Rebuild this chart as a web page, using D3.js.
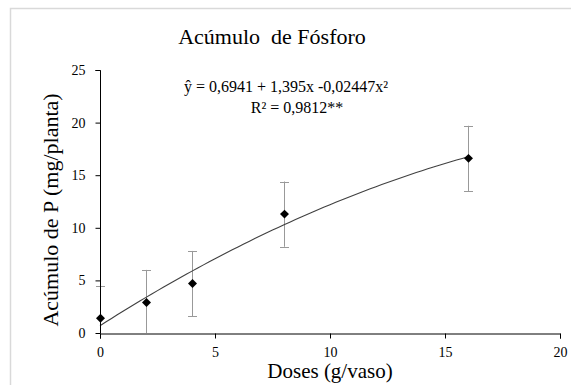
<!DOCTYPE html>
<html><head><meta charset="utf-8">
<script src="https://cdn.jsdelivr.net/npm/d3@7"></script>
<style>
html,body{margin:0;padding:0;background:#fff;}
svg{display:block;}
svg text{font-family:"Liberation Serif","Times New Roman",serif !important;}
</style></head>
<body><svg id="c" width="571" height="385"></svg>
<script>
const doses = [0, 2, 4, 8, 16];
const acumulo = [1.4, 2.9, 4.7, 11.3, 16.6];
const erro = [3.1, 3.1, 3.1, 3.1, 3.1];
const coef = [0.6941, 1.395, -0.02447];
const xTicks = [0, 5, 10, 15, 20];
const yTicks = [0, 5, 10, 15, 20, 25];
const title = "Acúmulo  de Fósforo";
const xLabel = "Doses (g/vaso)";
const yLabel = "Acúmulo de P (mg/planta)";
const eqText = "ŷ = 0,6941 + 1,395x -0,02447x²";
const r2Text = "R² = 0,9812**";

const serif = '"Liberation Serif","Times New Roman",serif';
const svg = d3.select("#c");
svg.append("rect").attr("x",10.5).attr("y",8.5).attr("width",620).attr("height",420)
  .attr("fill","#fff").attr("stroke","#d9d9d9").attr("stroke-width",1.5);

const x = d3.scaleLinear().domain([0,20]).range([100,560]);
const y = d3.scaleLinear().domain([0,25]).range([333,70]);

// error bars
const eb = svg.append("g").attr("stroke","#999").attr("stroke-width",1).attr("fill","none");
doses.forEach((d,i)=>{
  const lo = Math.max(0, acumulo[i]-erro[i]), hi = acumulo[i]+erro[i];
  const cx = Math.round(x(d))+0.5;
  eb.append("line").attr("x1",cx).attr("x2",cx).attr("y1",y(lo)).attr("y2",y(hi));
  eb.append("line").attr("x1",cx-4.5).attr("x2",cx+4.5).attr("y1",Math.round(y(hi))+0.5).attr("y2",Math.round(y(hi))+0.5);
  if (acumulo[i]-erro[i] >= 0)
    eb.append("line").attr("x1",cx-4.5).attr("x2",cx+4.5).attr("y1",Math.round(y(lo))+0.5).attr("y2",Math.round(y(lo))+0.5);
});

// fitted curve
const curveX = d3.range(0, 16.01, 0.25);
const line = d3.line().x(d=>x(d)).y(d=>y(coef[0]+coef[1]*d+coef[2]*d*d));
svg.append("path").datum(curveX).attr("d",line).attr("fill","none")
  .attr("stroke","#404040").attr("stroke-width",1.1);

// axes
const yAxis = d3.axisLeft(y).tickValues(yTicks).tickSize(5).tickPadding(10).tickFormat(d3.format("d"));
const gy = svg.append("g").attr("transform","translate(100.5,0)").call(yAxis);
const xAxis = d3.axisBottom(x).tickValues(xTicks).tickSize(5).tickPadding(9).tickFormat(d3.format("d"));
const gx = svg.append("g").attr("transform","translate(0,333.5)").call(xAxis);
[gx,gy].forEach(g=>{
  g.attr("font-family",serif);
  g.select(".domain").attr("stroke","#000");
  g.selectAll(".tick line").attr("stroke","#000");
  g.selectAll("text").style("font-family",serif).attr("font-size",14).attr("fill","#000");
});
gy.select(".domain").attr("d","M-5,70.5H0V333.5");

// points
svg.append("g").selectAll("path").data(doses).join("path")
  .attr("d", d3.symbol().type(d3.symbolSquare).size(40))
  .attr("transform",(d,i)=>`translate(${x(d)+0.5},${y(acumulo[i])}) rotate(45)`)
  .attr("fill","#000");

// texts
const txt = (xx,yy,size,s,anchor="middle") => svg.append("text").attr("x",xx).attr("y",yy)
  .attr("text-anchor",anchor).attr("font-size",size).attr("fill","#000")
  .style("font-family",serif).style("white-space","pre").text(s);
txt(272,44,22,title);
txt(330,378,21,xLabel);
svg.append("text").attr("transform","translate(58,210) rotate(-90)").attr("text-anchor","middle")
  .attr("font-size",22).attr("fill","#000").style("font-family",serif).text(yLabel);
txt(286,92,16,eqText);
txt(297,113,16,r2Text);
</script></body></html>
